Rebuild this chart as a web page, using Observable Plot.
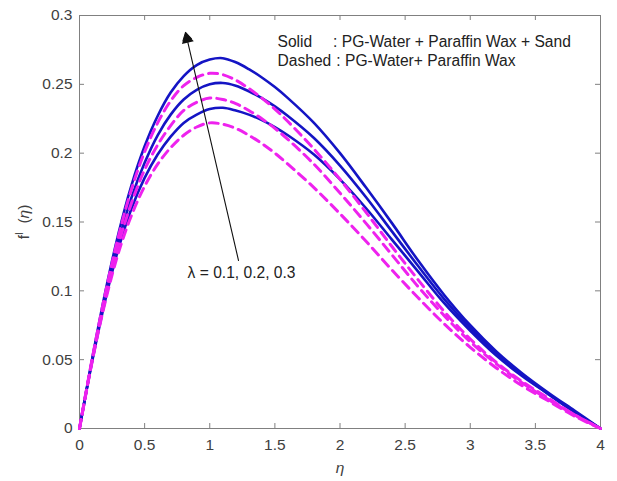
<!DOCTYPE html>
<html><head><meta charset="utf-8">
<script src="https://cdn.jsdelivr.net/npm/d3@7"></script>
<script src="https://cdn.jsdelivr.net/npm/@observablehq/plot@0.6"></script>
<style>body{margin:0;background:#fff}</style>
</head><body><div id="chart"></div>
<script>
const eta    = [0,0.1,0.2,0.3,0.4,0.5,0.6,0.7,0.8,0.9,1.0,1.1,1.2,1.3,1.4,1.5,1.6,1.8,2.0,2.2,2.4,2.6,2.8,3.0,3.2,3.4,3.6,3.8,4.0];
// Solid: PG-Water + Paraffin Wax + Sand (lambda = 0.1, 0.2, 0.3)
const solid1 = [0,0.050,0.094,0.131,0.160,0.182,0.199,0.212,0.222,0.228,0.232,0.233,0.231,0.228,0.224,0.219,0.213,0.199,0.181,0.160,0.137,0.114,0.091,0.071,0.053,0.038,0.025,0.012,0];
const solid2 = [0,0.051,0.097,0.136,0.168,0.193,0.213,0.228,0.239,0.246,0.250,0.251,0.249,0.245,0.240,0.234,0.227,0.211,0.191,0.168,0.143,0.118,0.094,0.073,0.055,0.039,0.025,0.012,0];
const solid3 = [0,0.052,0.100,0.142,0.177,0.205,0.227,0.244,0.256,0.264,0.268,0.269,0.266,0.261,0.255,0.248,0.240,0.222,0.200,0.175,0.149,0.122,0.097,0.075,0.056,0.040,0.026,0.013,0];
// Dashed: PG-Water + Paraffin Wax (lambda = 0.1, 0.2, 0.3)
const dashed1 = [0,0.050,0.093,0.128,0.155,0.176,0.192,0.204,0.213,0.219,0.222,0.221,0.218,0.213,0.207,0.200,0.192,0.175,0.156,0.136,0.115,0.095,0.076,0.059,0.044,0.031,0.020,0.009,0];
const dashed2 = [0,0.051,0.096,0.134,0.164,0.188,0.206,0.220,0.231,0.237,0.240,0.239,0.236,0.231,0.225,0.218,0.210,0.192,0.171,0.149,0.126,0.103,0.082,0.063,0.047,0.033,0.021,0.010,0];
const dashed3 = [0,0.052,0.099,0.140,0.174,0.201,0.222,0.238,0.249,0.255,0.258,0.257,0.253,0.247,0.240,0.232,0.223,0.203,0.181,0.157,0.132,0.108,0.085,0.065,0.048,0.034,0.022,0.010,0];

const xTicks = [0,0.5,1,1.5,2,2.5,3,3.5,4];
const xTickLabels = ["0","0.5","1","1.5","2","2.5","3","3.5","4"];
const yTicks = [0,0.05,0.1,0.15,0.2,0.25,0.3];
const yTickLabels = ["0","0.05","0.1","0.15","0.2","0.25","0.3"];

const solidName = "Solid";
const solidText = ": PG-Water + Paraffin Wax + Sand";
const dashedName = "Dashed";
const dashedText = ": PG-Water+ Paraffin Wax";
const lambdaText = "\u03BB = 0.1, 0.2, 0.3";
const xLabel = "\u03B7";

const series = [
  {name:"S1", style:"solid", values: solid1},
  {name:"S2", style:"solid", values: solid2},
  {name:"S3", style:"solid", values: solid3},
  {name:"D1", style:"dashed", values: dashed1},
  {name:"D2", style:"dashed", values: dashed2},
  {name:"D3", style:"dashed", values: dashed3}
];
const rows = [];
series.forEach(s => eta.forEach((e, i) => rows.push({eta: e, f: s.values[i], series: s.name, style: s.style})));

const arrowData = [{x1: 1.221, y1: 0.122, x2: 0.814, y2: 0.2877, hx: 0.826, hy: 0.2828}];

const W = 617, H = 481, mL = 79, mR = 17, mT = 15, mB = 53;
const pw = W - mL - mR, ph = H - mT - mB, tk = 5;
const axisColor = "#808080";
const annFont = 15.6;

const plot = Plot.plot({
  width: W, height: H,
  marginLeft: mL, marginRight: mR, marginTop: mT, marginBottom: mB,
  style: {fontFamily: "'Liberation Sans', Arial, sans-serif", fontSize: "15.5px", background: "#fff", color: "#404040"},
  x: {domain: [0, 4]},
  y: {domain: [0, 0.3]},
  marks: [
    Plot.frame({stroke: axisColor}),
    Plot.ruleX(xTicks, {x: d => d, insetTop: ph - tk, stroke: axisColor}),
    Plot.ruleX(xTicks, {x: d => d, insetBottom: ph - tk, stroke: axisColor}),
    Plot.ruleY(yTicks, {y: d => d, insetRight: pw - tk, stroke: axisColor}),
    Plot.ruleY(yTicks, {y: d => d, insetLeft: pw - tk, stroke: axisColor}),
    Plot.line(rows.filter(d => d.style === "solid"), {x: "eta", y: "f", z: "series", stroke: "#1414c4", strokeWidth: 2.6, curve: "catmull-rom"}),
    Plot.line(rows.filter(d => d.style === "dashed"), {x: "eta", y: "f", z: "series", stroke: "#ee22ee", strokeWidth: 3, strokeDasharray: "9,6", curve: "catmull-rom"}),
    Plot.arrow(arrowData, {x1: "x1", y1: "y1", x2: "x2", y2: "y2", stroke: "#111", strokeWidth: 1.1, headLength: 12}),
    Plot.dot(arrowData, {x: "hx", y: "hy", symbol: "triangle", r: 4.5, fill: "#111", rotate: -13}),
    Plot.text([lambdaText], {x: 0.83, y: 0.1133, text: d => d, textAnchor: "start", fill: "#222", fontSize: annFont}),
    Plot.text([solidName], {x: 1.52, y: 0.281, text: d => d, textAnchor: "start", fill: "#222", fontSize: annFont}),
    Plot.text([solidText], {x: 1.947, y: 0.281, text: d => d, textAnchor: "start", fill: "#222", fontSize: annFont}),
    Plot.text([dashedName], {x: 1.52, y: 0.267, text: d => d, textAnchor: "start", fill: "#222", fontSize: annFont}),
    Plot.text([dashedText], {x: 1.972, y: 0.267, text: d => d, textAnchor: "start", fill: "#222", fontSize: annFont}),
    Plot.axisX(xTicks, {tickFormat: d => xTickLabels[xTicks.indexOf(d)], tickSize: 0, tickPadding: 10, label: xLabel, labelAnchor: "center", labelOffset: 44, labelArrow: false, fill: "#404040"}),
    Plot.axisY(yTicks, {tickFormat: d => yTickLabels[yTicks.indexOf(d)], tickSize: 0, tickPadding: 7, label: "f (\u03B7)", labelAnchor: "center", labelOffset: 62, labelArrow: false, fill: "#404040"})
  ]
});

const svg = d3.select(plot);
svg.selectAll('g[aria-label="x-axis label"] text').attr("font-style", "italic");
svg.selectAll('g[aria-label="y-axis label"] text').each(function() {
  const t = d3.select(this);
  t.text(null);
  t.append("tspan").text("f");
  t.append("tspan").attr("dy", "-6").attr("font-size", "10px").text("I");
  t.append("tspan").attr("dy", "6").text("  (");
  t.append("tspan").attr("font-style", "italic").text("\u03B7");
  t.append("tspan").text(")");
});
document.getElementById("chart").appendChild(plot);
</script>
</body></html>
